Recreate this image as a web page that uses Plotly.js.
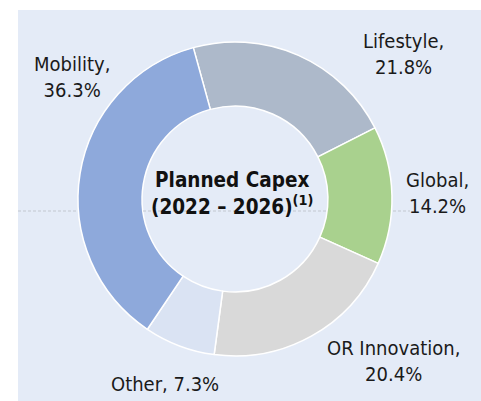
<!DOCTYPE html>
<html>
<head>
<meta charset="utf-8">
<script src="https://cdn.plot.ly/plotly-3.0.1.min.js"></script>
<style>html,body{margin:0;padding:0;background:#fff;}#chart{width:481px;height:401px;}</style>
</head>
<body>
<div id="chart"></div>
<script>
// Data
var categories = ["Lifestyle", "Global", "OR Innovation", "Other", "Mobility"];
var shares = [21.8, 14.2, 20.4, 7.3, 36.3];
var sliceColors = ["#ADB9CA", "#A9D18E", "#D9D9D9", "#DAE3F3", "#8EA9DB"];
var centerLines = ["Planned Capex", "(2022 – 2026)"];

// Label placement (pixels in a 481x401 page), kept separate from data
var W = 481, H = 401;
var labelPlace = [
  {x: 403, y: 54, br: true},
  {x: 437, y: 193, br: true},
  {x: 393, y: 361, br: true},
  {x: 165, y: 384, br: false},
  {x: 72,  y: 77, br: true}
];
var FONT = "'DejaVu Sans Condensed', 'DejaVu Sans', sans-serif";

var annotations = categories.map(function (c, i) {
  var p = labelPlace[i];
  return {
    xref: 'paper', yref: 'paper',
    x: p.x / W, y: (H - p.y) / H,
    xanchor: 'center', yanchor: 'middle',
    text: c + ',' + (p.br ? '<br>' : ' ') + shares[i].toFixed(1) + '%',
    showarrow: false, align: 'center',
    font: {family: FONT, size: 20, color: '#1a1a1a'}
  };
});
annotations.push({
  xref: 'paper', yref: 'paper',
  x: 232 / W, y: (H - 194) / H,
  xanchor: 'center', yanchor: 'middle',
  text: '<b>' + centerLines[0] + '<br>' + centerLines[1] + '<sup>(1)</sup></b>',
  showarrow: false, align: 'center',
  font: {family: FONT, size: 20.5, color: '#111'}
});

var cx = 235, cy = 199, r = 157;
var trace = {
  type: 'pie',
  labels: categories,
  values: shares,
  sort: false,
  direction: 'clockwise',
  rotation: -15.4,
  hole: 0.592,
  textinfo: 'none',
  hoverinfo: 'label+percent',
  marker: {colors: sliceColors, line: {color: '#ffffff', width: 1.5}},
  domain: {x: [(cx - r) / W, (cx + r) / W], y: [(H - cy - r) / H, (H - cy + r) / H]},
  showlegend: false
};

var dashY = (H - 211) / H;
var dashStyle = {color: '#C2C7CF', width: 1, dash: '3px,2px'};
function dashSeg(x0, x1) {
  return {type: 'line', xref: 'paper', yref: 'paper', x0: x0 / W, x1: x1 / W, y0: dashY, y1: dashY,
          line: dashStyle, layer: 'above'};
}

var layout = {
  width: W, height: H,
  margin: {l: 0, r: 0, t: 0, b: 0},
  paper_bgcolor: '#ffffff',
  showlegend: false,
  shapes: [
    {type: 'rect', xref: 'paper', yref: 'paper', x0: 18 / W, x1: 1, y0: 0, y1: (H - 10) / H,
     fillcolor: '#E4EBF7', line: {width: 0}, layer: 'below'},
    dashSeg(18, 78),
    dashSeg(143, 327),
    dashSeg(393, 410)
  ],
  annotations: annotations
};

Plotly.newPlot('chart', [trace], layout, {displayModeBar: false, staticPlot: true});
</script>
</body>
</html>
